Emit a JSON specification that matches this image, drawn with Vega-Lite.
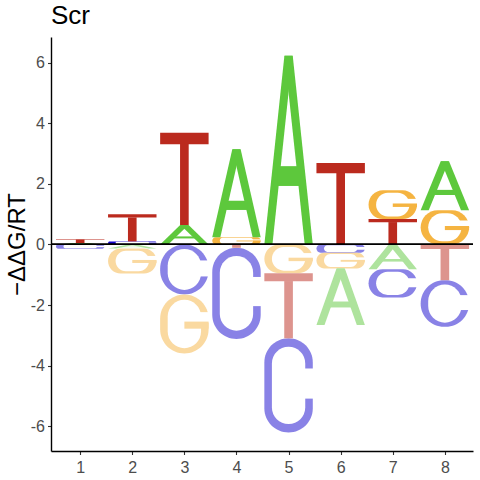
{
  "$schema": "https://vega.github.io/schema/vega-lite/v6.json",
  "width": 422,
  "height": 414,
  "autosize": {"type": "none"},
  "padding": {"left": 51, "top": 37, "right": 7, "bottom": 29},
  "title": {"text": "Scr", "anchor": "start", "frame": "group", "font": "Liberation Sans", "fontSize": 26, "fontWeight": "normal", "color": "black", "baseline": "alphabetic", "offset": 10, "dy": 23},
  "data": {
    "values": [
      {"pos": 1, "letter": "A", "value": 0.05},
      {"pos": 1, "letter": "T", "value": 0.13},
      {"pos": 1, "letter": "C", "value": -0.14},
      {"pos": 2, "letter": "C", "value": 0.1},
      {"pos": 2, "letter": "T", "value": 0.9},
      {"pos": 2, "letter": "A", "value": -0.13},
      {"pos": 2, "letter": "G", "value": -0.83},
      {"pos": 3, "letter": "A", "value": 0.64},
      {"pos": 3, "letter": "T", "value": 3.05},
      {"pos": 3, "letter": "C", "value": -1.65},
      {"pos": 3, "letter": "G", "value": -1.95},
      {"pos": 4, "letter": "G", "value": 0.24},
      {"pos": 4, "letter": "A", "value": 2.9},
      {"pos": 4, "letter": "T", "value": -0.11},
      {"pos": 4, "letter": "C", "value": -3.01},
      {"pos": 5, "letter": "A", "value": 6.23},
      {"pos": 5, "letter": "G", "value": -0.95},
      {"pos": 5, "letter": "T", "value": -2.15},
      {"pos": 5, "letter": "C", "value": -3.11},
      {"pos": 6, "letter": "T", "value": 2.69},
      {"pos": 6, "letter": "C", "value": -0.27},
      {"pos": 6, "letter": "G", "value": -0.52},
      {"pos": 6, "letter": "A", "value": -1.87},
      {"pos": 7, "letter": "T", "value": 0.84},
      {"pos": 7, "letter": "G", "value": 0.95},
      {"pos": 7, "letter": "A", "value": -0.82},
      {"pos": 7, "letter": "C", "value": -0.93},
      {"pos": 8, "letter": "G", "value": 1.13},
      {"pos": 8, "letter": "A", "value": 1.62},
      {"pos": 8, "letter": "T", "value": -1.18},
      {"pos": 8, "letter": "C", "value": -1.54}
    ]
  },
  "transform": [
    {"calculate": "abs(datum.value)", "as": "mag"},
    {"stack": "value", "groupby": ["pos"], "sort": [{"field": "mag", "order": "ascending"}], "as": ["s0", "s1"], "offset": "zero"},
    {"calculate": "min(datum.s0, datum.s1)", "as": "lo"},
    {"calculate": "max(datum.s0, datum.s1)", "as": "hi"},
    {"calculate": "datum.hi - datum.lo", "as": "h"},
    {"calculate": "datum.letter + (datum.value < 0 ? '-' : '+')", "as": "tone"},
    {"calculate": "datum.pos + datum.letter", "as": "id"}
  ],
  "layer": [
    {
      "transform": [
        {"filter": "datum.letter == 'C' || datum.letter == 'G'"},
        {"calculate": "datum.pos - 0.465", "as": "xa"},
        {"calculate": "datum.pos + 0.465", "as": "xb"},
        {"calculate": "datum.lo", "as": "ya"},
        {"calculate": "datum.hi", "as": "yb"}
      ],
      "mark": {"type": "rect", "cornerRadius": 999, "strokeWidth": 0},
      "encoding": {
        "x": {"field": "xa", "type": "quantitative", "scale": {"domain": [0.44, 8.54], "nice": false, "zero": false},
          "axis": {"orient": "bottom", "values": [1, 2, 3, 4, 5, 6, 7, 8], "title": null, "grid": false, "domainColor": "black", "domainWidth": 1.4, "tickColor": "#333333", "tickSize": 3.5, "tickWidth": 1.1, "labelFont": "Liberation Sans", "labelFontSize": 16, "labelColor": "#4d4d4d", "labelPadding": 5}},
        "x2": {"field": "xb"},
        "y": {"field": "ya", "type": "quantitative", "scale": {"domain": [-6.82, 6.85], "nice": false, "zero": false},
          "axis": {"orient": "left", "values": [-6, -4, -2, 0, 2, 4, 6], "labelExpr": "'' + datum.value", "grid": false, "domainColor": "black", "domainWidth": 1.4, "tickColor": "#333333", "tickSize": 3.5, "tickWidth": 1.1, "labelFont": "Liberation Sans", "labelFontSize": 16, "labelColor": "#4d4d4d", "labelPadding": 3,
            "title": "−ΔΔG/RT", "titleFont": "Liberation Sans", "titleFontSize": 24, "titleFontWeight": "normal", "titleColor": "black", "titleAngle": -90, "titleX": -27, "titleY": 207, "titleAlign": "center", "titleBaseline": "alphabetic"}},
        "y2": {"field": "yb"},
        "color": {"field": "tone", "type": "nominal", "legend": null,
          "scale": {"domain": ["A+", "C+", "G+", "T+", "A-", "C-", "G-", "T-"], "range": ["#5dc83c", "#1305cd", "#f5b441", "#bb2a1e", "#aee39d", "#8982e6", "#fad9a0", "#dd948e"]}}
      }
    },
    {
      "transform": [
        {"filter": "datum.letter == 'C' || datum.letter == 'G'"},
        {"calculate": "datum.pos - 0.32", "as": "xa"},
        {"calculate": "datum.pos + 0.32", "as": "xb"},
        {"calculate": "datum.lo + 0.09 * datum.h", "as": "ya"},
        {"calculate": "datum.hi - 0.09 * datum.h", "as": "yb"}
      ],
      "mark": {"type": "rect", "cornerRadius": 999, "strokeWidth": 0, "color": "white"},
      "encoding": {
        "x": {"field": "xa", "type": "quantitative", "scale": {"domain": [0.44, 8.54], "nice": false, "zero": false},
          "axis": {"orient": "bottom", "values": [1, 2, 3, 4, 5, 6, 7, 8], "title": null, "grid": false, "domainColor": "black", "domainWidth": 1.4, "tickColor": "#333333", "tickSize": 3.5, "tickWidth": 1.1, "labelFont": "Liberation Sans", "labelFontSize": 16, "labelColor": "#4d4d4d", "labelPadding": 5}},
        "x2": {"field": "xb"},
        "y": {"field": "ya", "type": "quantitative", "scale": {"domain": [-6.82, 6.85], "nice": false, "zero": false},
          "axis": {"orient": "left", "values": [-6, -4, -2, 0, 2, 4, 6], "labelExpr": "'' + datum.value", "grid": false, "domainColor": "black", "domainWidth": 1.4, "tickColor": "#333333", "tickSize": 3.5, "tickWidth": 1.1, "labelFont": "Liberation Sans", "labelFontSize": 16, "labelColor": "#4d4d4d", "labelPadding": 3,
            "title": "−ΔΔG/RT", "titleFont": "Liberation Sans", "titleFontSize": 24, "titleFontWeight": "normal", "titleColor": "black", "titleAngle": -90, "titleX": -27, "titleY": 207, "titleAlign": "center", "titleBaseline": "alphabetic"}},
        "y2": {"field": "yb"}
      }
    },
    {
      "transform": [
        {"filter": "datum.letter == 'C'"},
        {"calculate": "datum.pos + 0.12", "as": "xa"},
        {"calculate": "datum.pos + 0.5", "as": "xb"},
        {"calculate": "datum.lo + 0.36 * datum.h", "as": "ya"},
        {"calculate": "datum.lo + 0.68 * datum.h", "as": "yb"}
      ],
      "mark": {"type": "rect", "strokeWidth": 0, "color": "white"},
      "encoding": {
        "x": {"field": "xa", "type": "quantitative", "scale": {"domain": [0.44, 8.54], "nice": false, "zero": false},
          "axis": {"orient": "bottom", "values": [1, 2, 3, 4, 5, 6, 7, 8], "title": null, "grid": false, "domainColor": "black", "domainWidth": 1.4, "tickColor": "#333333", "tickSize": 3.5, "tickWidth": 1.1, "labelFont": "Liberation Sans", "labelFontSize": 16, "labelColor": "#4d4d4d", "labelPadding": 5}},
        "x2": {"field": "xb"},
        "y": {"field": "ya", "type": "quantitative", "scale": {"domain": [-6.82, 6.85], "nice": false, "zero": false},
          "axis": {"orient": "left", "values": [-6, -4, -2, 0, 2, 4, 6], "labelExpr": "'' + datum.value", "grid": false, "domainColor": "black", "domainWidth": 1.4, "tickColor": "#333333", "tickSize": 3.5, "tickWidth": 1.1, "labelFont": "Liberation Sans", "labelFontSize": 16, "labelColor": "#4d4d4d", "labelPadding": 3,
            "title": "−ΔΔG/RT", "titleFont": "Liberation Sans", "titleFontSize": 24, "titleFontWeight": "normal", "titleColor": "black", "titleAngle": -90, "titleX": -27, "titleY": 207, "titleAlign": "center", "titleBaseline": "alphabetic"}},
        "y2": {"field": "yb"}
      }
    },
    {
      "transform": [
        {"filter": "datum.letter == 'G'"},
        {"calculate": "datum.pos + 0.1", "as": "xa"},
        {"calculate": "datum.pos + 0.5", "as": "xb"},
        {"calculate": "datum.lo + 0.52 * datum.h", "as": "ya"},
        {"calculate": "datum.lo + 0.7 * datum.h", "as": "yb"}
      ],
      "mark": {"type": "rect", "strokeWidth": 0, "color": "white"},
      "encoding": {
        "x": {"field": "xa", "type": "quantitative", "scale": {"domain": [0.44, 8.54], "nice": false, "zero": false},
          "axis": {"orient": "bottom", "values": [1, 2, 3, 4, 5, 6, 7, 8], "title": null, "grid": false, "domainColor": "black", "domainWidth": 1.4, "tickColor": "#333333", "tickSize": 3.5, "tickWidth": 1.1, "labelFont": "Liberation Sans", "labelFontSize": 16, "labelColor": "#4d4d4d", "labelPadding": 5}},
        "x2": {"field": "xb"},
        "y": {"field": "ya", "type": "quantitative", "scale": {"domain": [-6.82, 6.85], "nice": false, "zero": false},
          "axis": {"orient": "left", "values": [-6, -4, -2, 0, 2, 4, 6], "labelExpr": "'' + datum.value", "grid": false, "domainColor": "black", "domainWidth": 1.4, "tickColor": "#333333", "tickSize": 3.5, "tickWidth": 1.1, "labelFont": "Liberation Sans", "labelFontSize": 16, "labelColor": "#4d4d4d", "labelPadding": 3,
            "title": "−ΔΔG/RT", "titleFont": "Liberation Sans", "titleFontSize": 24, "titleFontWeight": "normal", "titleColor": "black", "titleAngle": -90, "titleX": -27, "titleY": 207, "titleAlign": "center", "titleBaseline": "alphabetic"}},
        "y2": {"field": "yb"}
      }
    },
    {
      "transform": [
        {"filter": "datum.letter == 'G'"},
        {"calculate": "datum.pos", "as": "xa"},
        {"calculate": "datum.pos + 0.465", "as": "xb"},
        {"calculate": "datum.lo + 0.42 * datum.h", "as": "ya"},
        {"calculate": "datum.lo + 0.54 * datum.h", "as": "yb"}
      ],
      "mark": {"type": "rect", "strokeWidth": 0},
      "encoding": {
        "x": {"field": "xa", "type": "quantitative", "scale": {"domain": [0.44, 8.54], "nice": false, "zero": false},
          "axis": {"orient": "bottom", "values": [1, 2, 3, 4, 5, 6, 7, 8], "title": null, "grid": false, "domainColor": "black", "domainWidth": 1.4, "tickColor": "#333333", "tickSize": 3.5, "tickWidth": 1.1, "labelFont": "Liberation Sans", "labelFontSize": 16, "labelColor": "#4d4d4d", "labelPadding": 5}},
        "x2": {"field": "xb"},
        "y": {"field": "ya", "type": "quantitative", "scale": {"domain": [-6.82, 6.85], "nice": false, "zero": false},
          "axis": {"orient": "left", "values": [-6, -4, -2, 0, 2, 4, 6], "labelExpr": "'' + datum.value", "grid": false, "domainColor": "black", "domainWidth": 1.4, "tickColor": "#333333", "tickSize": 3.5, "tickWidth": 1.1, "labelFont": "Liberation Sans", "labelFontSize": 16, "labelColor": "#4d4d4d", "labelPadding": 3,
            "title": "−ΔΔG/RT", "titleFont": "Liberation Sans", "titleFontSize": 24, "titleFontWeight": "normal", "titleColor": "black", "titleAngle": -90, "titleX": -27, "titleY": 207, "titleAlign": "center", "titleBaseline": "alphabetic"}},
        "y2": {"field": "yb"},
        "color": {"field": "tone", "type": "nominal", "legend": null,
          "scale": {"domain": ["A+", "C+", "G+", "T+", "A-", "C-", "G-", "T-"], "range": ["#5dc83c", "#1305cd", "#f5b441", "#bb2a1e", "#aee39d", "#8982e6", "#fad9a0", "#dd948e"]}}
      }
    },
    {
      "transform": [
        {"filter": "datum.letter == 'T'"},
        {"calculate": "datum.pos - 0.465", "as": "xa"},
        {"calculate": "datum.pos + 0.465", "as": "xb"},
        {"calculate": "datum.lo + 0.875 * datum.h", "as": "ya"},
        {"calculate": "datum.hi", "as": "yb"}
      ],
      "mark": {"type": "rect", "strokeWidth": 0},
      "encoding": {
        "x": {"field": "xa", "type": "quantitative", "scale": {"domain": [0.44, 8.54], "nice": false, "zero": false},
          "axis": {"orient": "bottom", "values": [1, 2, 3, 4, 5, 6, 7, 8], "title": null, "grid": false, "domainColor": "black", "domainWidth": 1.4, "tickColor": "#333333", "tickSize": 3.5, "tickWidth": 1.1, "labelFont": "Liberation Sans", "labelFontSize": 16, "labelColor": "#4d4d4d", "labelPadding": 5}},
        "x2": {"field": "xb"},
        "y": {"field": "ya", "type": "quantitative", "scale": {"domain": [-6.82, 6.85], "nice": false, "zero": false},
          "axis": {"orient": "left", "values": [-6, -4, -2, 0, 2, 4, 6], "labelExpr": "'' + datum.value", "grid": false, "domainColor": "black", "domainWidth": 1.4, "tickColor": "#333333", "tickSize": 3.5, "tickWidth": 1.1, "labelFont": "Liberation Sans", "labelFontSize": 16, "labelColor": "#4d4d4d", "labelPadding": 3,
            "title": "−ΔΔG/RT", "titleFont": "Liberation Sans", "titleFontSize": 24, "titleFontWeight": "normal", "titleColor": "black", "titleAngle": -90, "titleX": -27, "titleY": 207, "titleAlign": "center", "titleBaseline": "alphabetic"}},
        "y2": {"field": "yb"},
        "color": {"field": "tone", "type": "nominal", "legend": null,
          "scale": {"domain": ["A+", "C+", "G+", "T+", "A-", "C-", "G-", "T-"], "range": ["#5dc83c", "#1305cd", "#f5b441", "#bb2a1e", "#aee39d", "#8982e6", "#fad9a0", "#dd948e"]}}
      }
    },
    {
      "transform": [
        {"filter": "datum.letter == 'T'"},
        {"calculate": "datum.pos - 0.083", "as": "xa"},
        {"calculate": "datum.pos + 0.083", "as": "xb"},
        {"calculate": "datum.lo", "as": "ya"},
        {"calculate": "datum.lo + 0.88 * datum.h", "as": "yb"}
      ],
      "mark": {"type": "rect", "strokeWidth": 0},
      "encoding": {
        "x": {"field": "xa", "type": "quantitative", "scale": {"domain": [0.44, 8.54], "nice": false, "zero": false},
          "axis": {"orient": "bottom", "values": [1, 2, 3, 4, 5, 6, 7, 8], "title": null, "grid": false, "domainColor": "black", "domainWidth": 1.4, "tickColor": "#333333", "tickSize": 3.5, "tickWidth": 1.1, "labelFont": "Liberation Sans", "labelFontSize": 16, "labelColor": "#4d4d4d", "labelPadding": 5}},
        "x2": {"field": "xb"},
        "y": {"field": "ya", "type": "quantitative", "scale": {"domain": [-6.82, 6.85], "nice": false, "zero": false},
          "axis": {"orient": "left", "values": [-6, -4, -2, 0, 2, 4, 6], "labelExpr": "'' + datum.value", "grid": false, "domainColor": "black", "domainWidth": 1.4, "tickColor": "#333333", "tickSize": 3.5, "tickWidth": 1.1, "labelFont": "Liberation Sans", "labelFontSize": 16, "labelColor": "#4d4d4d", "labelPadding": 3,
            "title": "−ΔΔG/RT", "titleFont": "Liberation Sans", "titleFontSize": 24, "titleFontWeight": "normal", "titleColor": "black", "titleAngle": -90, "titleX": -27, "titleY": 207, "titleAlign": "center", "titleBaseline": "alphabetic"}},
        "y2": {"field": "yb"},
        "color": {"field": "tone", "type": "nominal", "legend": null,
          "scale": {"domain": ["A+", "C+", "G+", "T+", "A-", "C-", "G-", "T-"], "range": ["#5dc83c", "#1305cd", "#f5b441", "#bb2a1e", "#aee39d", "#8982e6", "#fad9a0", "#dd948e"]}}
      }
    },
    {
      "transform": [
        {"filter": "datum.letter == 'A'"},
        {"fold": ["lo", "hi"], "as": ["side", "ya"]},
        {"calculate": "datum.side == 'hi' ? datum.pos - 0.08 : datum.pos - 0.465", "as": "xa"},
        {"calculate": "datum.xa + 0.155", "as": "xb"}
      ],
      "mark": {"type": "area", "orient": "horizontal", "strokeWidth": 0},
      "encoding": {
        "y": {"field": "ya", "type": "quantitative", "scale": {"domain": [-6.82, 6.85], "nice": false, "zero": false},
          "axis": {"orient": "left", "values": [-6, -4, -2, 0, 2, 4, 6], "labelExpr": "'' + datum.value", "grid": false, "domainColor": "black", "domainWidth": 1.4, "tickColor": "#333333", "tickSize": 3.5, "tickWidth": 1.1, "labelFont": "Liberation Sans", "labelFontSize": 16, "labelColor": "#4d4d4d", "labelPadding": 3,
            "title": "−ΔΔG/RT", "titleFont": "Liberation Sans", "titleFontSize": 24, "titleFontWeight": "normal", "titleColor": "black", "titleAngle": -90, "titleX": -27, "titleY": 207, "titleAlign": "center", "titleBaseline": "alphabetic"}},
        "x": {"field": "xa", "type": "quantitative", "stack": null, "scale": {"domain": [0.44, 8.54], "nice": false, "zero": false},
          "axis": {"orient": "bottom", "values": [1, 2, 3, 4, 5, 6, 7, 8], "title": null, "grid": false, "domainColor": "black", "domainWidth": 1.4, "tickColor": "#333333", "tickSize": 3.5, "tickWidth": 1.1, "labelFont": "Liberation Sans", "labelFontSize": 16, "labelColor": "#4d4d4d", "labelPadding": 5}},
        "x2": {"field": "xb"},
        "detail": {"field": "id"},
        "color": {"field": "tone", "type": "nominal", "legend": null,
          "scale": {"domain": ["A+", "C+", "G+", "T+", "A-", "C-", "G-", "T-"], "range": ["#5dc83c", "#1305cd", "#f5b441", "#bb2a1e", "#aee39d", "#8982e6", "#fad9a0", "#dd948e"]}}
      }
    },
    {
      "transform": [
        {"filter": "datum.letter == 'A'"},
        {"fold": ["lo", "hi"], "as": ["side", "ya"]},
        {"calculate": "datum.side == 'hi' ? datum.pos + 0.08 : datum.pos + 0.465", "as": "xb"},
        {"calculate": "datum.xb - 0.155", "as": "xa"}
      ],
      "mark": {"type": "area", "orient": "horizontal", "strokeWidth": 0},
      "encoding": {
        "y": {"field": "ya", "type": "quantitative", "scale": {"domain": [-6.82, 6.85], "nice": false, "zero": false},
          "axis": {"orient": "left", "values": [-6, -4, -2, 0, 2, 4, 6], "labelExpr": "'' + datum.value", "grid": false, "domainColor": "black", "domainWidth": 1.4, "tickColor": "#333333", "tickSize": 3.5, "tickWidth": 1.1, "labelFont": "Liberation Sans", "labelFontSize": 16, "labelColor": "#4d4d4d", "labelPadding": 3,
            "title": "−ΔΔG/RT", "titleFont": "Liberation Sans", "titleFontSize": 24, "titleFontWeight": "normal", "titleColor": "black", "titleAngle": -90, "titleX": -27, "titleY": 207, "titleAlign": "center", "titleBaseline": "alphabetic"}},
        "x": {"field": "xa", "type": "quantitative", "stack": null, "scale": {"domain": [0.44, 8.54], "nice": false, "zero": false},
          "axis": {"orient": "bottom", "values": [1, 2, 3, 4, 5, 6, 7, 8], "title": null, "grid": false, "domainColor": "black", "domainWidth": 1.4, "tickColor": "#333333", "tickSize": 3.5, "tickWidth": 1.1, "labelFont": "Liberation Sans", "labelFontSize": 16, "labelColor": "#4d4d4d", "labelPadding": 5}},
        "x2": {"field": "xb"},
        "detail": {"field": "id"},
        "color": {"field": "tone", "type": "nominal", "legend": null,
          "scale": {"domain": ["A+", "C+", "G+", "T+", "A-", "C-", "G-", "T-"], "range": ["#5dc83c", "#1305cd", "#f5b441", "#bb2a1e", "#aee39d", "#8982e6", "#fad9a0", "#dd948e"]}}
      }
    },
    {
      "transform": [
        {"filter": "datum.letter == 'A'"},
        {"calculate": "datum.pos - 0.22", "as": "xa"},
        {"calculate": "datum.pos + 0.22", "as": "xb"},
        {"calculate": "datum.lo + 0.31 * datum.h", "as": "ya"},
        {"calculate": "datum.lo + 0.415 * datum.h", "as": "yb"}
      ],
      "mark": {"type": "rect", "strokeWidth": 0},
      "encoding": {
        "x": {"field": "xa", "type": "quantitative", "scale": {"domain": [0.44, 8.54], "nice": false, "zero": false},
          "axis": {"orient": "bottom", "values": [1, 2, 3, 4, 5, 6, 7, 8], "title": null, "grid": false, "domainColor": "black", "domainWidth": 1.4, "tickColor": "#333333", "tickSize": 3.5, "tickWidth": 1.1, "labelFont": "Liberation Sans", "labelFontSize": 16, "labelColor": "#4d4d4d", "labelPadding": 5}},
        "x2": {"field": "xb"},
        "y": {"field": "ya", "type": "quantitative", "scale": {"domain": [-6.82, 6.85], "nice": false, "zero": false},
          "axis": {"orient": "left", "values": [-6, -4, -2, 0, 2, 4, 6], "labelExpr": "'' + datum.value", "grid": false, "domainColor": "black", "domainWidth": 1.4, "tickColor": "#333333", "tickSize": 3.5, "tickWidth": 1.1, "labelFont": "Liberation Sans", "labelFontSize": 16, "labelColor": "#4d4d4d", "labelPadding": 3,
            "title": "−ΔΔG/RT", "titleFont": "Liberation Sans", "titleFontSize": 24, "titleFontWeight": "normal", "titleColor": "black", "titleAngle": -90, "titleX": -27, "titleY": 207, "titleAlign": "center", "titleBaseline": "alphabetic"}},
        "y2": {"field": "yb"},
        "color": {"field": "tone", "type": "nominal", "legend": null,
          "scale": {"domain": ["A+", "C+", "G+", "T+", "A-", "C-", "G-", "T-"], "range": ["#5dc83c", "#1305cd", "#f5b441", "#bb2a1e", "#aee39d", "#8982e6", "#fad9a0", "#dd948e"]}}
      }
    },
    {
      "mark": {"type": "rule", "color": "black", "strokeWidth": 1},
      "encoding": {
        "y": {"datum": 0, "type": "quantitative", "scale": {"domain": [-6.82, 6.85], "nice": false, "zero": false},
          "axis": {"orient": "left", "values": [-6, -4, -2, 0, 2, 4, 6], "labelExpr": "'' + datum.value", "grid": false, "domainColor": "black", "domainWidth": 1.4, "tickColor": "#333333", "tickSize": 3.5, "tickWidth": 1.1, "labelFont": "Liberation Sans", "labelFontSize": 16, "labelColor": "#4d4d4d", "labelPadding": 3,
            "title": "−ΔΔG/RT", "titleFont": "Liberation Sans", "titleFontSize": 24, "titleFontWeight": "normal", "titleColor": "black", "titleAngle": -90, "titleX": -27, "titleY": 207, "titleAlign": "center", "titleBaseline": "alphabetic"}}
      }
    }
  ],
  "config": {"view": {"stroke": null}, "font": "Liberation Sans"}
}
